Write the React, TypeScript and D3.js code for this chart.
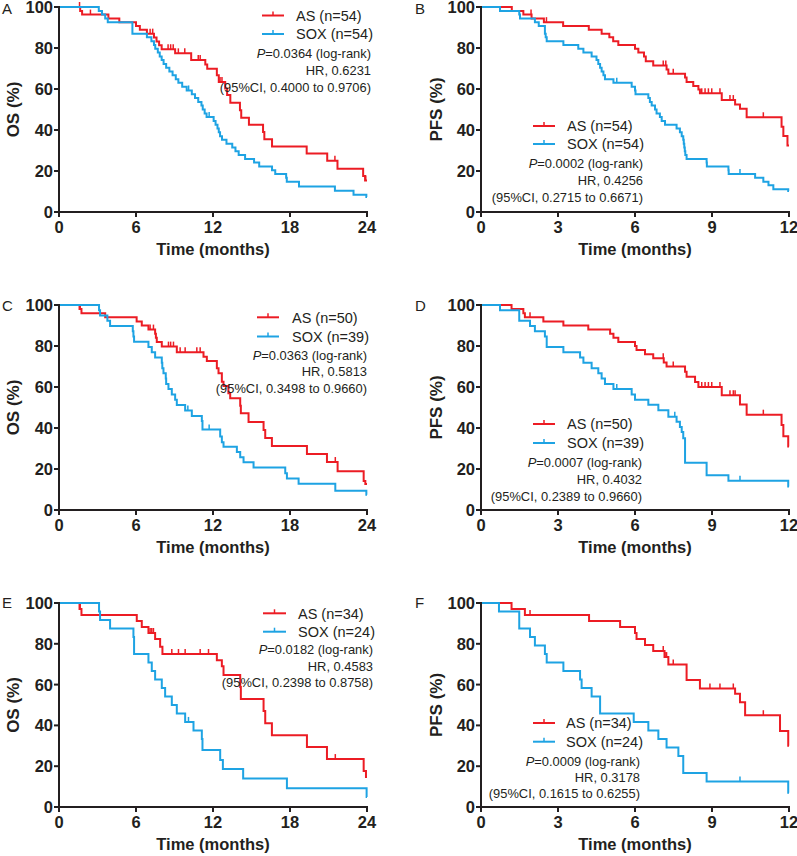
import React from 'react';
import * as d3 from 'd3';

type Step = [number, number];

// ---------- Data (time in months, survival %) ----------
// A: OS
const aAS: Step[] = [[1.65,98.1],[1.8,96.3],[3.85,94.4],[4.7,92.6],[6.0,90.7],[6.3,88.9],[6.85,87.0],[7.4,85.1],[7.6,83.2],[7.8,81.3],[8.0,79.4],[9.05,77.4],[10.3,74.1],[11.4,72.0],[11.55,69.9],[12.3,66.7],[12.45,63.4],[12.95,60.2],[13.1,57.1],[13.35,53.3],[14.1,49.6],[14.2,46.0],[14.8,42.6],[15.9,39.0],[16.0,35.5],[16.6,32.0],[19.3,28.5],[20.9,25.0],[21.7,21.1],[23.7,17.6],[23.85,15.4]];
const aASCens = [1.6, 2.45, 7.1, 7.3, 8.5, 8.7, 8.9, 9.3, 9.8, 10.85, 11.0, 12.55, 12.7, 21.5, 23.9];
const aSOX: Step[] = [[3.1,98.1],[3.35,96.3],[3.6,94.4],[3.8,92.6],[5.72,87.0],[6.85,85.2],[7.2,83.3],[7.4,81.5],[7.5,79.6],[7.7,77.8],[7.85,75.9],[8.0,74.1],[8.15,72.2],[8.35,70.4],[8.6,68.5],[8.85,66.7],[9.1,64.8],[9.3,63.0],[9.6,61.1],[9.95,59.3],[10.35,57.4],[10.6,55.6],[10.85,53.7],[11.1,51.9],[11.2,50.0],[11.35,48.1],[11.5,46.3],[12.05,44.4],[12.2,42.6],[12.35,40.7],[12.45,38.9],[12.55,37.0],[12.7,35.2],[13.05,33.3],[13.5,31.5],[13.75,29.6],[14.0,27.8],[14.5,25.9],[15.2,24.1],[15.6,22.2],[16.6,20.4],[16.85,18.5],[17.7,16.7],[17.75,14.8],[18.7,12.4],[21.5,10.4],[22.95,8.4],[23.95,7.3]];
const aSOXCens = [10.1, 11.7];

// B: PFS
const bAS: Step[] = [[1.2,98.1],[1.65,96.3],[1.97,94.4],[2.45,92.6],[3.2,90.7],[4.2,88.9],[4.7,87.0],[5.0,85.2],[5.15,83.3],[5.35,81.5],[6.0,79.6],[6.13,77.8],[6.35,75.9],[6.42,73.5],[6.71,71.5],[7.23,69.5],[7.3,67.5],[7.95,65.6],[8.01,63.4],[8.27,61.5],[8.47,59.8],[8.53,57.9],[9.38,54.6],[9.9,52.5],[10.09,50.4],[10.35,46.2],[11.71,41.6],[11.78,37.1],[11.94,32.5]];
const bASCens = [1.95, 2.55, 7.1, 7.2, 7.49, 8.6, 8.73, 8.86, 8.99, 9.31, 9.7, 9.83, 11.0];
const bSOX: Step[] = [[0.74,98.1],[1.49,96.3],[1.52,94.4],[2.1,92.6],[2.25,90.7],[2.49,87.0],[2.52,85.2],[2.56,83.3],[3.21,81.5],[3.79,79.6],[3.99,77.8],[4.31,75.9],[4.5,74.1],[4.57,72.2],[4.64,70.4],[4.7,68.5],[4.77,66.7],[4.83,64.8],[5.16,63.0],[5.87,61.1],[6.0,59.3],[6.02,57.4],[6.52,55.6],[6.58,53.7],[6.65,51.9],[6.78,50.0],[6.84,48.1],[6.97,46.3],[7.04,44.4],[7.17,42.6],[7.62,40.7],[7.75,38.9],[7.82,37.0],[7.88,35.2],[7.9,33.3],[7.92,31.5],[7.94,29.6],[7.96,27.8],[8.01,25.9],[8.79,24.1],[8.8,22.2],[9.64,20.4],[9.65,18.5],[10.68,16.7],[11.0,14.8],[11.2,13.0],[11.39,11.1],[11.97,10.2]];
const bSOXCens = [5.29, 10.09];

// C: OS
const cAS: Step[] = [[1.6,98],[1.75,96],[3.6,94],[6.05,92],[6.45,90],[6.97,88],[7.49,86],[7.55,84],[7.62,82],[8.01,79.7],[9.18,76.9],[11.26,74.8],[11.52,72.7],[12.3,69.1],[12.43,66.7],[12.69,62.6],[12.82,60.5],[13.2,57],[13.34,54.5],[14.12,50.9],[14.17,47.2],[14.77,42.9],[15.94,39.0],[16.07,35.1],[16.59,31.2],[19.32,27.3],[20.88,23.4],[21.71,18.9],[23.74,14.1],[23.87,12.7]];
const cASCens = [1.65, 7.1, 7.36, 8.53, 8.7, 8.92, 9.44, 9.83, 10.74, 11.0, 21.53];
const cSOX: Step[] = [[3.12,97.4],[3.2,94.9],[3.77,92.3],[3.98,89.7],[5.75,87.2],[5.8,84.6],[5.85,82.1],[6.97,79.5],[7.23,76.9],[7.49,74.4],[8.01,71.8],[8.05,69.2],[8.14,66.7],[8.32,64.1],[8.35,61.5],[8.53,59.0],[8.79,56.4],[9.05,53.8],[9.18,51.2],[9.83,48.5],[10.35,45.9],[11.13,43.4],[11.18,39.3],[12.56,35.8],[12.69,33.0],[12.82,30.9],[13.86,28.3],[14.12,25.7],[14.38,23.3],[15.16,20.7],[17.63,17.9],[17.76,15.4],[18.67,12.8],[21.53,9.4],[23.95,7.5]];
const cSOXCens = [10.04, 11.7];

// D: PFS
const dAS: Step[] = [[1.19,98],[1.65,96],[1.71,94],[2.43,92],[3.21,90],[4.18,88],[5.03,86],[5.16,84],[5.35,82],[6.0,80],[6.06,78],[6.39,76],[6.71,74],[7.12,72],[7.23,70],[7.95,67.5],[8.01,65],[8.34,62.5],[8.47,60],[9.38,56],[10.09,51.5],[10.35,46.5],[11.71,41.5],[11.78,36],[11.97,31]];
const dASCens = [1.91, 7.1, 7.49, 8.6, 8.73, 8.86, 8.99, 9.31, 9.7, 9.83, 9.9, 11.0];
const dSOX: Step[] = [[0.74,97.4],[1.49,92.3],[1.91,89.7],[2.1,87.2],[2.49,84.6],[2.56,79.5],[3.21,76.9],[3.86,74.4],[3.99,71.8],[4.31,69.2],[4.57,66.7],[4.7,64.1],[4.83,61.5],[5.16,59.0],[5.87,56.4],[6.0,53.8],[6.52,51.3],[6.91,48.6],[7.3,45.5],[7.62,43.0],[7.75,40.5],[7.82,38.0],[7.88,35.0],[7.95,23.0],[8.79,17.0],[9.64,14.3],[11.97,11.5]];
const dSOXCens = [5.29, 7.55, 10.09];

// E: OS
const eAS: Step[] = [[1.6,97.1],[1.75,94.1],[6.06,91.2],[6.45,88.2],[6.97,85.3],[7.49,82.4],[7.88,78.5],[8.06,75.0],[12.3,71.9],[12.69,69.0],[12.82,64.7],[14.12,58.8],[14.17,52.9],[15.94,47.0],[16.07,41.1],[16.59,35.2],[19.32,29.4],[20.88,23.5],[23.74,17.6],[23.92,14.7]];
const eASCens = [1.65, 7.1, 7.23, 7.36, 8.79, 9.31, 9.83, 11.0, 11.65, 21.53];
const eSOX: Step[] = [[3.12,95.8],[3.2,91.7],[3.98,87.5],[5.8,83.3],[5.85,75.0],[6.97,70.8],[7.23,66.7],[7.49,62.5],[8.01,58.3],[8.27,54.2],[8.79,50.0],[9.18,45.8],[9.83,41.7],[10.48,37.5],[11.13,33.3],[11.18,27.9],[12.56,23.0],[12.77,18.6],[14.35,14.0],[17.76,9.2],[23.97,4.9]];
const eSOXCens = [10.09];

// F: PFS
const fAS: Step[] = [[1.19,97.1],[1.71,94.1],[4.21,91.2],[5.42,88.2],[6.0,85.3],[6.06,82.4],[6.39,79.4],[6.71,76.5],[7.15,73.5],[7.3,69.9],[8.01,62.2],[8.53,58.1],[9.9,55.5],[10.09,51.4],[10.29,45.0],[11.65,37.3],[11.97,30.0]];
const fASCens = [1.91, 7.1, 7.17, 7.23, 7.49, 8.92, 9.31, 9.83, 11.0];
const fSOX: Step[] = [[0.7,95.8],[1.49,87.5],[1.91,83.3],[2.1,79.2],[2.49,75.0],[2.56,70.8],[3.21,66.7],[3.86,62.5],[3.92,58.3],[4.31,54.2],[4.64,45.8],[5.95,41.7],[6.52,37.5],[6.91,33.3],[7.23,29.2],[7.69,25.0],[7.88,16.7],[8.79,12.5],[11.97,7.0]];
const fSOXCens = [10.09];

const osTicksX = [0, 6, 12, 18, 24];
const pfsTicksX = [0, 3, 6, 9, 12];
const ticksY = [0, 20, 40, 60, 80, 100];

const letters = ['A', 'B', 'C', 'D', 'E', 'F'];
const yTitles = ['OS (%)', 'PFS (%)', 'OS (%)', 'PFS (%)', 'OS (%)', 'PFS (%)'];
const asLabels = ['AS (n=54)', 'AS (n=54)', 'AS (n=50)', 'AS (n=50)', 'AS (n=34)', 'AS (n=34)'];
const soxLabels = ['SOX (n=54)', 'SOX (n=54)', 'SOX (n=39)', 'SOX (n=39)', 'SOX (n=24)', 'SOX (n=24)'];
const pValues = ['0.0364', '0.0002', '0.0363', '0.0007', '0.0182', '0.0009'];
const hrValues = ['0.6231', '0.4256', '0.5813', '0.4032', '0.4583', '0.3178'];
const ciValues = ['0.4000 to 0.9706', '0.2715 to 0.6671', '0.3498 to 0.9660', '0.2389 to 0.9660', '0.2398 to 0.8758', '0.1615 to 0.6255'];

// ---------- Layout ----------
const RED = '#ec1c24';
const BLUE = '#1ea3e3';
const INK = '#231f20';
const FONT = '"Liberation Sans", Arial, Helvetica, sans-serif';

const frames = [
  { x0: 59, x1: 367, yTop: 7, yBot: 212, lx: 2, ly: 14, tx: 13 },
  { x0: 481, x1: 789, yTop: 7, yBot: 212, lx: 415, ly: 14, tx: 436 },
  { x0: 59, x1: 367, yTop: 305, yBot: 510, lx: 2, ly: 311, tx: 13 },
  { x0: 481, x1: 789, yTop: 305, yBot: 510, lx: 415, ly: 311, tx: 436 },
  { x0: 59, x1: 367, yTop: 603, yBot: 807, lx: 2, ly: 608, tx: 13 },
  { x0: 481, x1: 789, yTop: 603, yBot: 807, lx: 415, ly: 608, tx: 436 },
];
// legend: line x range, text x, stats right x, offsets from yTop
const legends = [
  { l1: 262, l2: 284, tx: 296, rx: 371, o: [8.5, 27, 46.3, 63, 80.3] },
  { l1: 533, l2: 555, tx: 567, rx: 643, o: [119, 137, 156, 173, 190] },
  { l1: 257, l2: 279, tx: 292, rx: 367, o: [12.3, 31.5, 50.5, 66.5, 83.3] },
  { l1: 533, l2: 555, tx: 567, rx: 642, o: [119, 138, 157.5, 174, 191] },
  { l1: 263, l2: 286, tx: 298, rx: 373, o: [10.3, 28.7, 46.3, 63, 79.7] },
  { l1: 533, l2: 555, tx: 566, rx: 640, o: [120, 138.7, 158, 174.3, 190.3] },
];

const curvesAS = [aAS, bAS, cAS, dAS, eAS, fAS];
const censAS = [aASCens, bASCens, cASCens, dASCens, eASCens, fASCens];
const curvesSOX = [aSOX, bSOX, cSOX, dSOX, eSOX, fSOX];
const censSOX = [aSOXCens, bSOXCens, cSOXCens, dSOXCens, eSOXCens, fSOXCens];

function survAt(steps: Step[], t: number) {
  let s = 100;
  for (const [tt, ss] of steps) if (tt <= t) s = ss;
  return s;
}

function Curve({ steps, cens, xMax, x, y, color }: any) {
  const pts: Step[] = [[0, 100], ...steps, [xMax, steps[steps.length - 1][1]]];
  const line = d3.line<Step>().x(d => x(d[0])).y(d => y(d[1])).curve(d3.curveStepAfter);
  return (
    <g>
      <path d={line(pts) || ''} fill="none" stroke={color} strokeWidth={2} />
      {cens.map((c: number, i: number) => {
        const yy = y(survAt(steps, c));
        return <line key={i} x1={x(c)} x2={x(c)} y1={yy} y2={yy - 5} stroke={color} strokeWidth={1.5} />;
      })}
    </g>
  );
}

function Panel({ i }: { i: number }) {
  const f = frames[i];
  const lg = legends[i];
  const isOS = i % 2 === 0;
  const xTicks = isOS ? osTicksX : pfsTicksX;
  const xMax = xTicks[xTicks.length - 1];
  const x = d3.scaleLinear().domain([0, xMax]).range([f.x0, f.x1]);
  const y = d3.scaleLinear().domain([0, 100]).range([f.yBot, f.yTop]);
  const cy = (f.yTop + f.yBot) / 2;
  const row = (k: number) => f.yTop + lg.o[k];
  const lm = (lg.l1 + lg.l2) / 2;
  return (
    <g fontFamily={FONT}>
      <text x={f.lx} y={f.ly} fontSize={15} fill={INK}>{letters[i]}</text>
      <text transform={`translate(${f.tx},${cy}) rotate(-90)`} textAnchor="middle" dy="0.35em" fontSize={17} fontWeight="bold" fill={INK}>{yTitles[i]}</text>
      <Curve steps={curvesAS[i]} cens={censAS[i]} xMax={xMax} x={x} y={y} color={RED} />
      <Curve steps={curvesSOX[i]} cens={censSOX[i]} xMax={xMax} x={x} y={y} color={BLUE} />
      {/* axes */}
      <line x1={f.x0} x2={f.x0} y1={y(100) - 1} y2={y(0) + 1} stroke={INK} strokeWidth={2} />
      <line x1={f.x0 - 1} x2={x(xMax) + 1} y1={y(0)} y2={y(0)} stroke={INK} strokeWidth={2} />
      {ticksY.map(v => (
        <g key={v}>
          <line x1={f.x0 - 5} x2={f.x0} y1={y(v)} y2={y(v)} stroke={INK} strokeWidth={2} />
          <text x={f.x0 - 6} y={y(v)} dy="0.36em" textAnchor="end" fontSize={16.5} fontWeight="bold" fill={INK}>{v}</text>
        </g>
      ))}
      {xTicks.map(v => (
        <g key={v}>
          <line x1={x(v)} x2={x(v)} y1={y(0)} y2={y(0) + 5} stroke={INK} strokeWidth={2} />
          <text x={x(v)} y={y(0) + 21} textAnchor="middle" fontSize={16.5} fontWeight="bold" fill={INK}>{v}</text>
        </g>
      ))}
      <text x={(f.x0 + f.x1) / 2} y={y(0) + 43} textAnchor="middle" fontSize={16.5} fontWeight="bold" fill={INK}>Time (months)</text>
      {/* legend */}
      <line x1={lg.l1} x2={lg.l2} y1={row(0)} y2={row(0)} stroke={RED} strokeWidth={2} />
      <line x1={lm} x2={lm} y1={row(0)} y2={row(0) - 4} stroke={RED} strokeWidth={1.5} />
      <text x={lg.tx} y={row(0)} dy="0.36em" fontSize={14.5} fill={INK}>{asLabels[i]}</text>
      <line x1={lg.l1} x2={lg.l2} y1={row(1)} y2={row(1)} stroke={BLUE} strokeWidth={2} />
      <line x1={lm} x2={lm} y1={row(1)} y2={row(1) - 4} stroke={BLUE} strokeWidth={1.5} />
      <text x={lg.tx} y={row(1)} dy="0.36em" fontSize={14.5} fill={INK}>{soxLabels[i]}</text>
      <text x={lg.rx} y={row(2)} dy="0.36em" textAnchor="end" fontSize={12.9} fill={INK}>
        <tspan fontStyle="italic">P</tspan>={pValues[i]} (log-rank)
      </text>
      <text x={lg.rx} y={row(3)} dy="0.36em" textAnchor="end" fontSize={12.9} fill={INK}>HR, {hrValues[i]}</text>
      <text x={lg.rx} y={row(4)} dy="0.36em" textAnchor="end" fontSize={12.9} fill={INK}>(95%CI, {ciValues[i]})</text>
    </g>
  );
}

export default function App() {
  return (
    <svg width={797} height={856} viewBox="0 0 797 856" style={{ position: 'absolute', left: 0, top: 0, display: 'block', background: '#fff' }}>
      <rect width={797} height={856} fill="#fff" />
      {letters.map((_, i) => <Panel key={i} i={i} />)}
    </svg>
  );
}
